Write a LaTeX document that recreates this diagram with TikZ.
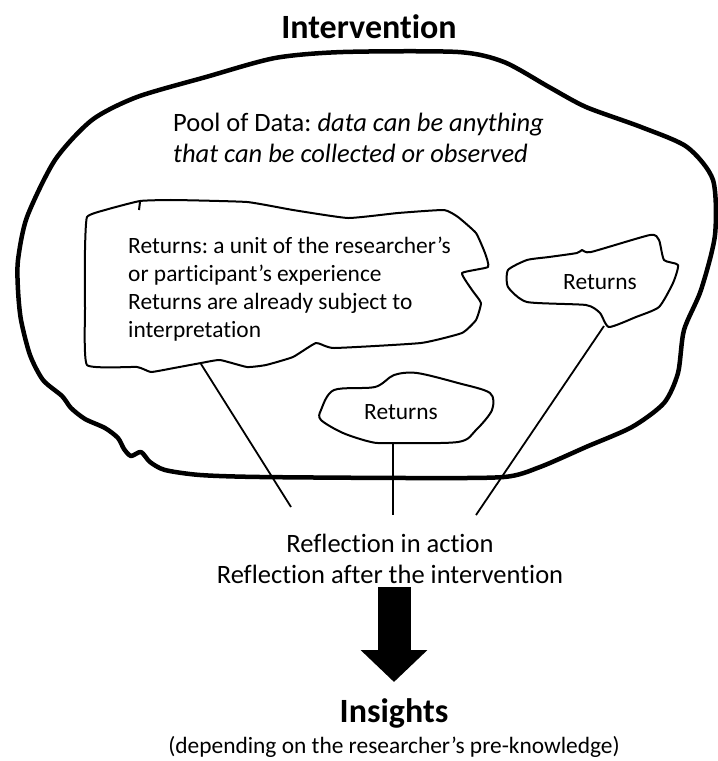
\documentclass[tikz,border=0pt]{standalone}
\usepackage{fontspec}
\setmainfont{Carlito}[Ligatures=NoCommon]
\frenchspacing
\usetikzlibrary{arrows.meta,positioning}

\tikzset{
  poolblob/.style={line width=4.5pt, line join=round},
  retblob/.style={line width=2pt, line join=round},
  retlink/.style={line width=1.8pt},
  bigarrow/.style={line width=33pt, -{Triangle[length=32pt,width=65pt]}},
  headtext/.style={inner sep=0pt, font=\bfseries\fontsize{34}{40}\selectfont},
  bodytext/.style={inner sep=0pt, font=\fontsize{26.5}{31.5}\selectfont},
  rettext/.style={inner sep=0pt, font=\fontsize{23.4}{28}\selectfont},
}

\begin{document}
\begin{tikzpicture}[x=1pt,y=-1pt]
    \useasboundingbox (0,0) rectangle (718,761);

    % pool of data
    \draw[poolblob] plot[smooth cycle, tension=0.45] coordinates {
        (18,260) (27,217) (55,160) (92,120) (137,97) (206,77) (275,58) (343,52)
        (458,52) (504,62) (549,87) (586,107) (641,127) (687,147) (713,180) (715,235)
        (701,290) (684,330) (678,373) (664,403) (632,427) (586,447) (540,467) (504,477)
        (412,478) (260,477) (200,475) (165,470) (150,462) (141,452) (131,456) (124,449)
        (118,438) (105,428) (85,419) (71,408) (62,396) (43,380) (30,355) (21,320) (18,290)};

    \node[headtext] (title) at (369,27) {Intervention};
    \node[bodytext, anchor=west, align=left] (pool) at (173,138)
        {Pool of Data: \textit{data can be anything}\\ \textit{that can be collected or observed}};

    % the returns
    \draw[retblob] plot[smooth cycle, tension=0.25] coordinates {
        (87,217) (105,210) (140,201) (174,200) (247,202) (293,210) (348,218) (398,213)
        (444,210) (458,217) (476,233) (485,253) (488,267) (462,273) (472,290) (481,303)
        (476,320) (462,333) (421,343) (334,348) (316,343) (293,357) (266,365) (247,367)
        (220,360) (201,363) (174,368) (151,372) (137,367) (87,365) (85,307) (85,250)};
    \draw[retblob] (140,202) -- (139,210);
    \draw[retblob] plot[smooth cycle, tension=0.35] coordinates {
        (527,260) (549,257) (577,253) (582,250) (591,252) (650,235) (659,240) (664,260)
        (678,265) (673,283) (659,307) (636,317) (609,327) (600,313) (586,305) (527,302)
        (508,287) (508,270)};
    \draw[retblob] plot[smooth cycle, tension=0.5] coordinates {
        (321,410) (334,390) (375,387) (394,375) (417,373) (458,383) (490,393) (492,410)
        (476,430) (458,442) (389,443) (371,442) (343,433) (321,420)};

    \node[rettext, anchor=west, align=left] (retbig) at (128,289)
        {Returns: a unit of the researcher’s\\ or participant’s experience\\
         Returns are already subject to\\ interpretation};
    \node[rettext] (retright) at (600,282) {Returns};
    \node[rettext] (retmid) at (401,412) {Returns};

    \coordinate (bigfoot) at (201,364);
    \coordinate (midfoot) at (393,443);
    \coordinate (rightfoot) at (604,326);
    \coordinate (bigend) at (291,507);
    \coordinate (midend) at (393,515);
    \coordinate (rightend) at (476,515);

    \draw[retlink] (bigfoot) -- (bigend);
    \draw[retlink] (midfoot) -- (midend);
    \draw[retlink] (rightfoot) -- (rightend);

    % reflection and insights
    \node[bodytext, align=center] (reflect) at (390,559)
        {Reflection in action\\ Reflection after the intervention};
    \node[headtext] (insights) at (394,713) {Insights};
    \node[rettext] (depends) at (394,747) {(depending on the researcher’s pre-knowledge)};

    \draw[bigarrow, shorten <=3pt, shorten >=16pt] (insights.north |- reflect.south) -- (insights.north);

\end{tikzpicture}
\end{document}
